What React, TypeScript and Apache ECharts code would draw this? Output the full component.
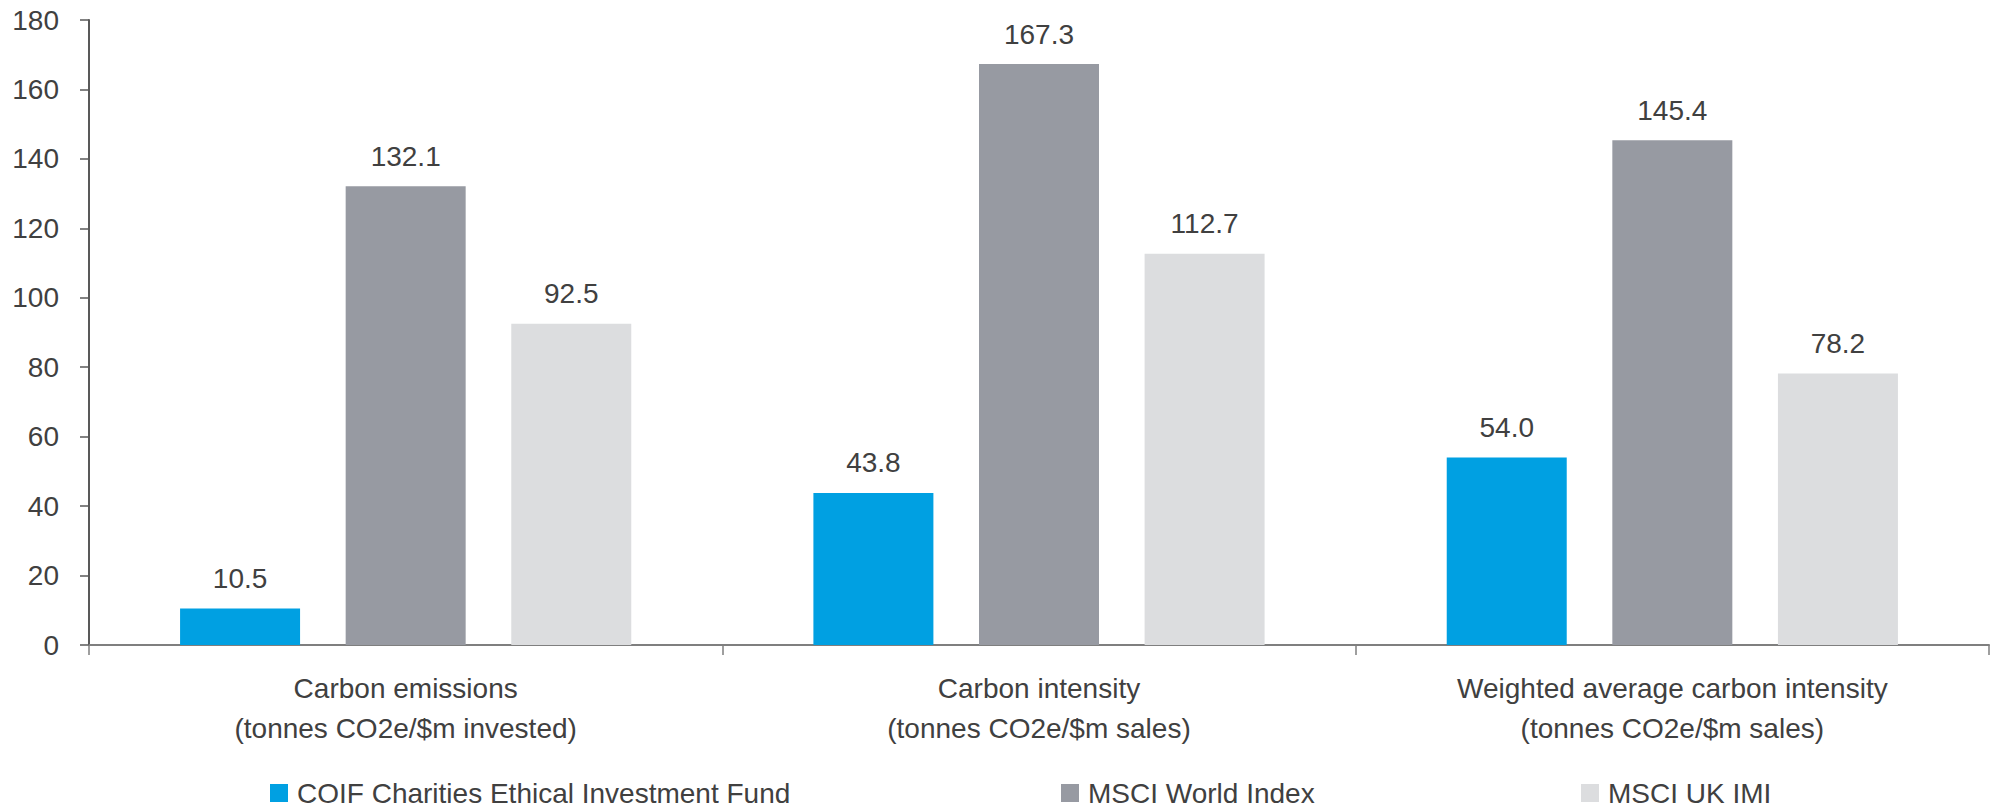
import React, { useEffect, useRef } from "react";
import * as echarts from "echarts";

const categories = [
  "Carbon emissions\n(tonnes CO2e/$m invested)",
  "Carbon intensity\n(tonnes CO2e/$m sales)",
  "Weighted average carbon intensity\n(tonnes CO2e/$m sales)",
];
const seriesNames = ["COIF Charities Ethical Investment Fund", "MSCI World Index", "MSCI UK IMI"];
const coifValues = [10.5, 43.8, 54.0];
const worldValues = [132.1, 167.3, 145.4];
const ukValues = [92.5, 112.7, 78.2];
const colors = ["#00A0E2", "#979AA2", "#DCDDDF"];
const legendLefts = [270, 1061, 1581];

const FONT = "Liberation Sans";
const FS = 28;
const TEXT = "#404040";

export default function App() {
  const ref = useRef<HTMLDivElement>(null);
  useEffect(() => {
    if (!ref.current) return;
    const chart = echarts.init(ref.current, null, { renderer: "svg" });
    const allValues = [coifValues, worldValues, ukValues];
    chart.setOption({
      animation: false,
      backgroundColor: "#ffffff",
      textStyle: { fontFamily: FONT, color: TEXT },
      grid: { left: 89, right: 6, top: 20, bottom: 163, containLabel: false },
      legend: seriesNames.map((name, i) => ({
        data: [name],
        left: legendLefts[i],
        top: 779,
        padding: 0,
        icon: "rect",
        itemWidth: 18,
        itemHeight: 18,
        textStyle: { fontFamily: FONT, fontSize: FS, color: TEXT, lineHeight: 28, padding: [0, 0, 0, 4] },
      })),
      xAxis: {
        type: "category",
        data: categories,
        axisLine: { show: true, lineStyle: { color: "#7f7f7f", width: 2 } },
        axisTick: { show: true, length: 10, lineStyle: { color: "#7f7f7f", width: 1.5 } },
        axisLabel: {
          interval: 0,
          margin: 23,
          fontFamily: FONT,
          fontSize: FS,
          lineHeight: 40,
          color: TEXT,
        },
      },
      yAxis: {
        type: "value",
        min: 0,
        max: 180,
        interval: 20,
        splitLine: { show: false },
        axisLine: { show: true, lineStyle: { color: "#595959", width: 2 } },
        axisTick: { show: true, length: 9, lineStyle: { color: "#595959", width: 1.5 } },
        axisLabel: { margin: 30, fontFamily: FONT, fontSize: FS, color: TEXT },
      },
      series: seriesNames.map((name, i) => ({
        name,
        type: "bar",
        data: allValues[i],
        barWidth: 120,
        barGap: "38%",
        itemStyle: { color: colors[i] },
        label: {
          show: true,
          position: "top",
          distance: 16,
          fontFamily: FONT,
          fontSize: FS,
          color: TEXT,
          formatter: (p: any) => Number(p.value).toFixed(1),
        },
      })),
    });
    return () => chart.dispose();
  }, []);
  return (
    <div
      ref={ref}
      style={{ position: "fixed", left: 0, top: 0, width: 1995, height: 808 }}
    />
  );
}
